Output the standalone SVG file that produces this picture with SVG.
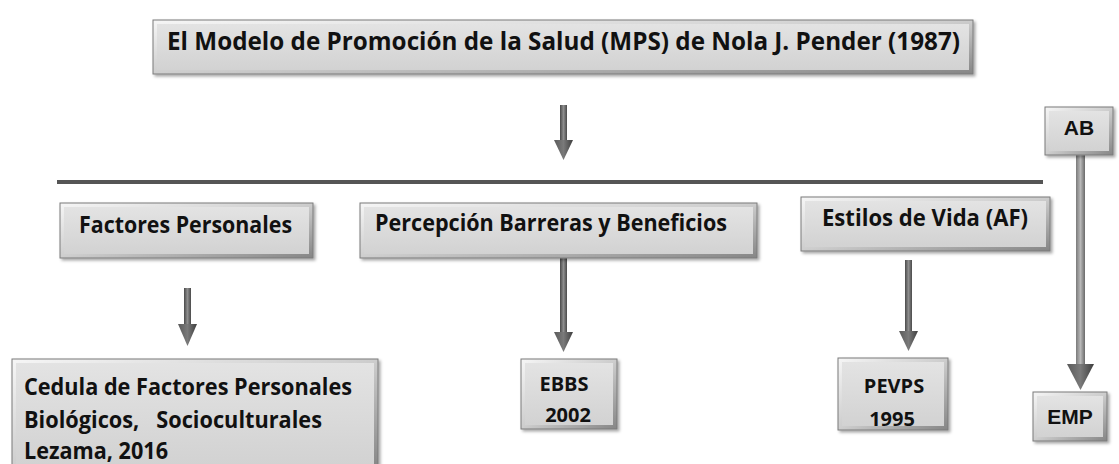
<svg xmlns="http://www.w3.org/2000/svg" width="1119" height="464" viewBox="0 0 1119 464">
  <defs>
    <linearGradient id="bevel" x1="0" y1="0" x2="1" y2="1">
      <stop offset="0" stop-color="#f6f6f6"/>
      <stop offset="0.5" stop-color="#cdcdcd"/>
      <stop offset="1" stop-color="#858585"/>
    </linearGradient>
    <linearGradient id="face" x1="0" y1="0" x2="0" y2="1">
      <stop offset="0" stop-color="#e3e3e3"/>
      <stop offset="1" stop-color="#d2d2d2"/>
    </linearGradient>
    <linearGradient id="shaft" x1="0" y1="0" x2="1" y2="0">
      <stop offset="0" stop-color="#4a4a4a"/>
      <stop offset="0.5" stop-color="#8e8e8e"/>
      <stop offset="1" stop-color="#4a4a4a"/>
    </linearGradient>
    <linearGradient id="head" x1="0" y1="0" x2="1" y2="0">
      <stop offset="0" stop-color="#5a5a5a"/>
      <stop offset="0.5" stop-color="#7a7a7a"/>
      <stop offset="1" stop-color="#3e3e3e"/>
    </linearGradient>
    <linearGradient id="shaftLight" x1="0" y1="0" x2="1" y2="0">
      <stop offset="0" stop-color="#7a7a7a"/>
      <stop offset="0.5" stop-color="#b8b8b8"/>
      <stop offset="1" stop-color="#6a6a6a"/>
    </linearGradient>
    <filter id="shadow" x="-10%" y="-10%" width="130%" height="140%">
      <feDropShadow dx="2" dy="2" stdDeviation="1.5" flood-color="#000" flood-opacity="0.35"/>
    </filter>
  </defs>
  <style>
    .outer { fill: url(#bevel); stroke: #7b7b7b; stroke-width: 1; filter: url(#shadow); }
    .inner { fill: url(#face); }
    .t { font-family: "Open Sans", "Noto Sans", "Liberation Sans", sans-serif; font-weight: 700; font-size: 23px; fill: #111; }
    .big { font-size: 25px; }
    .sm { font-size: 20px; text-anchor: middle; }
    .a { font-family: "Liberation Sans", Arial, sans-serif; font-weight: 700; font-size: 21px; fill: #111; }
    .shaft { fill: url(#shaft); }
    .head { fill: url(#head); }
    .hline { stroke: #555; stroke-width: 4; }
  </style>

  <rect width="1119" height="464" fill="#ffffff"/>

  <g id="connectors">
    <line class="hline" x1="57" y1="182" x2="1043" y2="182"/>
    <rect class="shaft" x="560" y="105" width="7" height="36"/>
    <polygon class="head" points="554,140 573,140 563.5,160"/>
    <rect class="shaft" x="184" y="288" width="7" height="37"/>
    <polygon class="head" points="178,324 197,324 187.5,346"/>
    <rect class="shaft" x="560" y="258" width="7" height="76"/>
    <polygon class="head" points="554,332 573,332 563.5,352"/>
    <rect class="shaft" x="905" y="260" width="7" height="73"/>
    <polygon class="head" points="899,331 918,331 908.5,351"/>
    <rect x="1076" y="155" width="9" height="210" fill="url(#shaftLight)"/>
    <polygon points="1067,364 1094,364 1080.5,390" fill="url(#head)"/>
  </g>

  <g id="title">
    <rect class="outer" x="153" y="20" width="820" height="54"/>
    <rect class="inner" x="157" y="24" width="812" height="46"/>
    <text class="t big" x="167" y="50" textLength="793" lengthAdjust="spacingAndGlyphs">El Modelo de Promoción de la Salud (MPS) de Nola J. Pender (1987)</text>
  </g>

  <g id="factores">
    <rect class="outer" x="60" y="203" width="253" height="55"/>
    <rect class="inner" x="64" y="207" width="245" height="47"/>
    <text class="t" x="79" y="233" textLength="213" lengthAdjust="spacingAndGlyphs">Factores Personales</text>
  </g>

  <g id="percepcion">
    <rect class="outer" x="360" y="203" width="397" height="55"/>
    <rect class="inner" x="364" y="207" width="389" height="47"/>
    <text class="t" x="375" y="231" textLength="352" lengthAdjust="spacingAndGlyphs">Percepción Barreras y Beneficios</text>
  </g>

  <g id="estilos">
    <rect class="outer" x="801" y="197" width="249" height="54"/>
    <rect class="inner" x="805" y="201" width="241" height="46"/>
    <text class="t" x="822" y="226" textLength="206" lengthAdjust="spacingAndGlyphs">Estilos de Vida (AF)</text>
  </g>

  <g id="ab">
    <rect class="outer" x="1045" y="107" width="68" height="48"/>
    <rect class="inner" x="1049" y="111" width="60" height="40"/>
    <text class="a" x="1079" y="135" text-anchor="middle">AB</text>
  </g>

  <g id="cedula">
    <rect class="outer" x="12" y="359" width="366" height="110"/>
    <rect class="inner" x="16" y="363" width="358" height="102"/>
    <text class="t" x="24" y="395" textLength="328" lengthAdjust="spacingAndGlyphs">Cedula de Factores Personales</text>
    <text class="t" x="24" y="428" textLength="298" lengthAdjust="spacingAndGlyphs" xml:space="preserve">Biológicos,   Socioculturales</text>
    <text class="t" x="24" y="459" textLength="144" lengthAdjust="spacingAndGlyphs">Lezama, 2016</text>
  </g>

  <g id="ebbs">
    <rect class="outer" x="521" y="359" width="96" height="70"/>
    <rect class="inner" x="525" y="363" width="88" height="62"/>
    <text class="t sm" x="564" y="391">EBBS</text>
    <text class="t sm" x="568" y="422">2002</text>
  </g>

  <g id="pevps">
    <rect class="outer" x="838" y="358" width="110" height="72"/>
    <rect class="inner" x="842" y="362" width="102" height="64"/>
    <text class="t sm" x="894" y="393" >PEVPS</text>
    <text class="t sm" x="892" y="426">1995</text>
  </g>

  <g id="emp">
    <rect class="outer" x="1033" y="392" width="74" height="49"/>
    <rect class="inner" x="1037" y="396" width="66" height="41"/>
    <text class="a" x="1070" y="424" text-anchor="middle">EMP</text>
  </g>
</svg>
